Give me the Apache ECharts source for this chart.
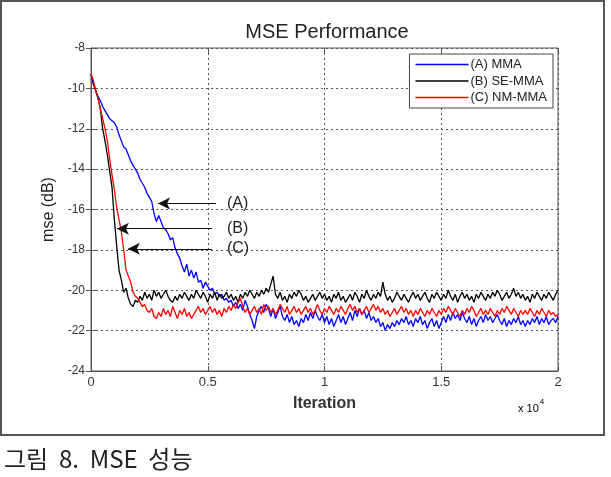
<!DOCTYPE html>
<html>
<head>
<meta charset="utf-8">
<script src="https://cdn.jsdelivr.net/npm/echarts@6/dist/echarts.min.js"></script>
<style>
  html, body { margin: 0; padding: 0; background: #fff; }
  #chart { width: 611px; height: 477px; }
</style>
</head>
<body>
<div id="chart"></div>
<script>
// 반복 횟수 (100 간격)
const iterStep = 100
const xTicks = [0, 0.5, 1, 1.5, 2]
const yTicks = [-24, -22, -20, -18, -16, -14, -12, -10, -8]

// (A) MMA
const mmaData = [
  -9.3, -9.8, -10.1, -10.4, -10.6, -10.9, -11.1, -11.3, -11.5, -11.6,
  -11.7, -11.9, -12.3, -12.6, -12.9, -13.0, -13.3, -13.6, -13.8, -14.0,
  -14.2, -14.5, -14.7, -14.9, -15.2, -15.4, -15.6, -16.2, -16.6, -16.3,
  -16.6, -16.9, -17.0, -17.2, -17.5, -17.4, -17.9, -18.2, -18.4, -18.8,
  -19.1, -18.7, -19.3, -19.0, -19.4, -19.1, -19.6, -19.5, -19.9, -19.6,
  -19.8, -20.0, -19.9, -20.2, -20.1, -20.3, -20.2, -20.5, -20.4, -20.6,
  -20.5, -20.8, -20.6, -20.9, -20.7, -21.0, -20.5, -20.8, -21.2, -21.5,
  -21.9, -21.3, -21.0, -20.8, -21.1, -20.7, -20.9, -21.3, -20.9, -21.4,
  -21.1, -20.8, -21.3, -21.5, -21.2, -21.6, -21.3, -21.7, -21.5, -21.8,
  -21.4, -21.6, -21.2, -21.5, -21.1, -21.4, -21.0, -21.3, -21.5, -21.2,
  -21.6, -21.3, -21.7, -21.4, -21.8, -21.5, -21.2, -21.6, -21.3, -21.7,
  -21.4, -21.1, -21.5, -21.0, -21.3, -20.9, -21.2, -21.0, -21.4, -21.1,
  -21.5, -21.3, -21.6, -21.4, -21.8, -21.6, -22.0, -21.7, -21.9, -21.6,
  -21.8, -21.5, -21.7, -21.4, -21.6, -21.3, -21.7, -21.5, -21.8, -21.4,
  -21.6, -21.3, -21.7, -21.5, -21.9, -21.6, -21.4, -21.8, -21.5, -21.9,
  -21.6, -21.3, -21.6, -21.2, -21.5, -21.1, -21.4, -21.2, -21.5, -21.1,
  -21.4, -21.6, -21.3, -21.7, -21.4, -21.8, -21.5, -21.3, -21.6, -21.2,
  -21.5, -21.3, -21.6, -21.4, -21.2, -21.5, -21.7, -21.4, -21.8, -21.5,
  -21.7, -21.4, -21.6, -21.3, -21.7, -21.5, -21.8, -21.5, -21.7, -21.4,
  -21.6, -21.3, -21.7, -21.4, -21.6, -21.3, -21.7, -21.5, -21.4, -21.6,
  -21.3
]

// (B) SE-MMA
const seMmaData = [
  -9.3, -9.7, -10.1, -10.5, -11.0, -12.0, -12.6, -13.3, -14.1, -14.9,
  -16.5, -17.8, -19.0, -19.5, -20.1, -19.9, -20.4, -20.7, -20.8, -20.5,
  -20.6, -20.3, -20.5, -20.1, -20.4, -20.2, -20.5, -20.0, -20.3, -20.1,
  -20.4, -20.2, -20.0, -20.3, -20.5, -20.6, -20.3, -20.5, -20.2, -20.4,
  -20.1, -20.3, -20.5, -20.2, -20.4, -20.0, -20.2, -20.4, -20.1, -20.3,
  -20.6, -20.2, -20.4, -20.1, -20.5, -20.2, -20.4, -20.3, -20.1, -20.4,
  -20.2, -20.5, -20.3, -20.6, -20.2, -20.4, -20.1, -20.3, -20.0, -20.2,
  -20.4, -20.1, -20.3, -20.0, -20.2, -19.9, -20.1, -19.7, -19.3, -20.2,
  -20.4, -20.1, -20.5, -20.3, -20.6, -20.2, -20.4, -20.1, -20.3, -20.0,
  -20.2, -20.5, -20.3, -20.6, -20.4, -20.2, -20.5, -20.3, -20.1, -20.4,
  -20.2, -20.5, -20.3, -20.6, -20.2, -20.4, -20.1, -20.5, -20.3, -20.6,
  -20.4, -20.2, -20.5, -20.1, -20.3, -20.6, -20.2, -20.4, -20.0, -20.3,
  -20.5, -20.2, -20.4, -20.1, -20.3, -19.6, -20.2, -20.5, -20.3, -20.6,
  -20.4, -20.1, -20.3, -20.5, -20.2, -20.4, -20.6, -20.3, -20.1, -20.4,
  -20.2, -20.5, -20.3, -20.1, -20.4, -20.6, -20.2, -20.4, -20.1, -20.3,
  -20.5, -20.2, -20.4, -20.0, -20.3, -20.5, -20.2, -20.6, -20.3, -20.1,
  -20.4, -20.2, -20.5, -20.3, -20.6, -20.2, -20.4, -20.1, -20.3, -20.5,
  -20.2, -20.4, -20.1, -20.3, -20.0, -20.2, -20.5, -20.3, -20.1, -20.4,
  -20.2, -19.9, -20.3, -20.1, -20.4, -20.2, -20.5, -20.3, -20.6, -20.2,
  -20.4, -20.1, -20.3, -20.5, -20.2, -20.4, -20.1, -20.3, -20.5, -20.2,
  -20.0
]

// (C) NM-MMA
const nmMmaData = [
  -9.3, -9.6, -10.1, -10.5, -11.0, -11.5, -12.0, -12.6, -13.5, -14.3,
  -15.0, -15.9, -16.5, -17.1, -18.0, -19.0, -19.3, -19.6, -20.1, -20.3,
  -20.4, -20.6, -20.8, -20.7, -21.0, -21.1, -20.9, -21.3, -21.4, -21.1,
  -21.3, -20.9, -21.2, -21.0, -21.3, -20.8, -21.1, -21.4, -21.0, -21.2,
  -20.9, -21.3, -21.1, -21.4, -21.2, -21.0, -20.8, -21.1, -20.9, -21.2,
  -21.0, -20.8, -21.1, -20.9, -21.2, -21.0, -21.3, -20.9, -21.1, -20.8,
  -21.0, -20.7, -20.9, -20.6, -20.4, -20.8, -21.1, -20.9, -21.2, -21.0,
  -20.8, -21.1, -20.9, -21.2, -20.7, -21.0, -20.8, -21.1, -20.9, -21.2,
  -21.0, -20.7, -20.9, -21.1, -20.8, -21.2, -21.0, -20.8, -21.1, -20.9,
  -21.2, -21.0, -20.8, -21.1, -20.9, -21.2, -21.0, -20.7, -21.0, -21.2,
  -20.9, -21.1, -20.8, -21.0, -21.2, -20.9, -21.1, -20.8, -21.0, -21.2,
  -20.9, -20.7, -21.0, -20.8, -21.1, -20.9, -21.2, -21.0, -20.8, -21.1,
  -20.9, -20.7, -21.0, -20.8, -21.1, -20.9, -21.2, -21.0, -21.3, -21.1,
  -20.9, -21.2, -21.0, -20.8, -21.1, -20.9, -21.2, -21.0, -21.3, -21.0,
  -21.2, -20.9, -21.1, -21.3, -21.0, -21.2, -20.9, -21.1, -21.3, -21.0,
  -21.2, -20.9, -21.1, -20.8, -21.0, -21.2, -20.9, -21.1, -21.3, -21.0,
  -21.2, -20.9, -21.1, -20.8, -21.0, -21.3, -21.1, -20.9, -21.2, -21.0,
  -21.2, -20.9, -21.1, -21.3, -21.0, -21.2, -20.9, -21.1, -20.8, -21.0,
  -21.2, -20.9, -21.1, -21.3, -21.0, -21.2, -21.0, -21.2, -20.9, -21.1,
  -21.3, -21.0, -21.2, -20.9, -21.1, -21.3, -21.0, -21.2, -21.1, -21.3,
  -21.2
]

// 화살표 주석: [라벨, 꼬리 x, 머리 x, y]
const arrowNotes = [
  ['(A)', 5350, 2870, -15.7],
  ['(B)', 5180, 1110, -16.95],
  ['(C)', 5180, 1580, -17.95]
]

const toPairs = arr => arr.map((v, i) => [i * iterStep, v])

const chart = echarts.init(document.getElementById('chart'))

const baseFont = 'Arial, "Liberation Sans", sans-serif'

const mkSeries = (name, data, color, withNotes) => {
  const s = {
    name: name,
    type: 'line',
    data: toPairs(data),
    showSymbol: false,
    symbol: 'none',
    animation: false,
    lineStyle: { color: color, width: 1.3 },
    itemStyle: { color: color }
  }
  if (withNotes) {
    s.markLine = {
      silent: true,
      animation: false,
      symbol: ['none', 'arrow'],
      symbolSize: [9, 12],
      lineStyle: { color: '#111', width: 1, type: 'solid' },
      label: {
        show: true,
        position: 'start',
        color: '#222',
        fontSize: 16,
        fontFamily: baseFont,
        formatter: p => p.name
      },
      data: arrowNotes.map(n => [
        { name: n[0], coord: [n[1], n[3]], label: { distance: n[1] > 5200 ? 11 : 15 } },
        { coord: [n[2], n[3]] }
      ])
    }
  }
  return s
}

// 위/오른쪽 눈금용 보조 축
const sideAxis = {
  axisLine: { show: false },
  axisTick: { show: true, inside: true, length: 5, lineStyle: { color: '#555' } },
  axisLabel: { show: false },
  splitLine: { show: false }
}

const option = {
  backgroundColor: '#fff',
  animation: false,
  title: {
    text: 'MSE Performance',
    left: 322,
    textAlign: 'center',
    top: 17,
    textStyle: { fontFamily: baseFont, fontSize: 20, fontWeight: 'normal', color: '#222' }
  },
  legend: {
    orient: 'vertical',
    right: 58,
    top: 54,
    padding: [4, 6, 4, 6],
    itemGap: 3.5,
    itemWidth: 53,
    itemHeight: 1.5,
    icon: 'rect',
    backgroundColor: '#fff',
    borderColor: '#444',
    borderWidth: 1,
    borderRadius: 0,
    textStyle: { fontFamily: baseFont, fontSize: 13, color: '#222', padding: [0, 0, 0, -3] },
    data: ['(A) MMA', '(B) SE-MMA', '(C) NM-MMA']
  },
  grid: {
    left: 91,
    right: 53,
    top: 48,
    bottom: 106,
    show: true,
    borderColor: '#555',
    borderWidth: 1
  },
  xAxis: [{
    type: 'value',
    min: 0,
    max: 20000,
    interval: 5000,
    name: 'Iteration',
    nameLocation: 'middle',
    nameGap: 25,
    nameTextStyle: { fontFamily: baseFont, fontSize: 16, fontWeight: 'bold', color: '#333' },
    axisLine: { show: true, lineStyle: { color: '#555' } },
    axisTick: { show: true, inside: true, length: 5, lineStyle: { color: '#555' } },
    axisLabel: {
      fontFamily: baseFont, fontSize: 13, color: '#333', margin: 5,
      formatter: v => String(xTicks[Math.round(v / 5000)])
    },
    splitLine: { show: true, lineStyle: { color: '#555', type: [2, 3], width: 1 } }
  }, Object.assign({ type: 'value', min: 0, max: 20000, interval: 5000, position: 'top' }, sideAxis)],
  yAxis: [{
    type: 'value',
    min: -24,
    max: -8,
    interval: 2,
    name: 'mse (dB)',
    nameLocation: 'middle',
    nameGap: 29,
    nameTextStyle: { fontFamily: baseFont, fontSize: 16, color: '#222' },
    axisLine: { show: true, lineStyle: { color: '#555' } },
    axisTick: { show: true, inside: true, length: 5, lineStyle: { color: '#555' } },
    axisLabel: {
      fontFamily: baseFont, fontSize: 12, color: '#333', margin: 6,
      formatter: v => yTicks.indexOf(v) >= 0 ? String(v) : ''
    },
    splitLine: { show: true, lineStyle: { color: '#555', type: [2, 3], width: 1 } }
  }, Object.assign({ type: 'value', min: -24, max: -8, interval: 2, position: 'right' }, sideAxis)],
  series: [
    mkSeries('(A) MMA', mmaData, '#0000ff', false),
    mkSeries('(B) SE-MMA', seMmaData, '#000000', false),
    mkSeries('(C) NM-MMA', nmMmaData, '#ff0000', true)
  ],
  graphic: [
    // 바깥 테두리
    {
      type: 'rect',
      shape: { x: 1, y: 1, width: 603, height: 434 },
      style: { fill: 'none', stroke: '#555', lineWidth: 2 },
      z: -1
    },
    {
      type: 'text',
      left: 518,
      top: 398,
      style: {
        text: '{b|x 10}{s|4}',
        rich: {
          b: { fontFamily: baseFont, fontSize: 11, color: '#333', verticalAlign: 'bottom' },
          s: { fontFamily: baseFont, fontSize: 8, color: '#333', verticalAlign: 'top', padding: [0, 0, 8, 1] }
        }
      }
    },
    {
      type: 'text',
      left: 4,
      top: 447,
      style: {
        text: '그림  8.  MSE  성능',
        fontFamily: '"Noto Sans CJK KR", sans-serif',
        fontSize: 24,
        fill: '#222'
      }
    }
  ]
}

chart.setOption(option)
</script>
</body>
</html>
